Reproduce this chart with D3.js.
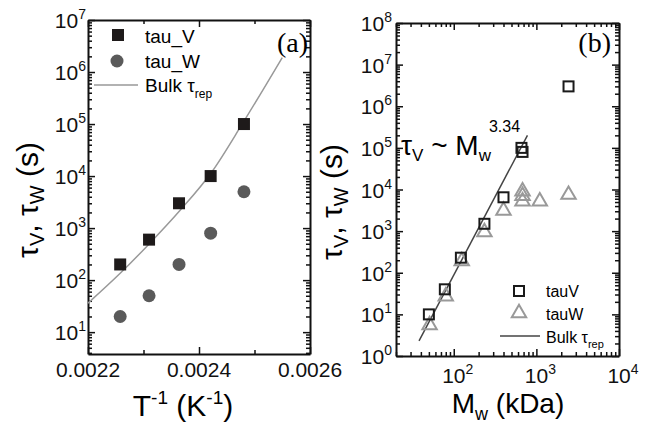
<!DOCTYPE html>
<html>
<head>
<meta charset="utf-8">
<script src="https://cdn.jsdelivr.net/npm/d3@7"></script>
<style>
  body { margin: 0; background: #fff; }
  svg { display: block; font-family: "Liberation Sans", Arial, sans-serif; }
  .axis path, .axis line { stroke: #111; }
  .axis path { stroke-width: 2; }
  .axis line { stroke-width: 1.5; }
</style>
</head>
<body>
<svg id="chart" width="652" height="427"></svg>
<script>
// panel (a): relaxation time vs inverse temperature
var invT = [0.002258, 0.00231, 0.002364, 0.002421, 0.002481];
var tauV_a = [200, 600, 3000, 10000, 100000];
var tauW_a = [20, 50, 200, 800, 5000];
var bulkInvT = [0.0022, 0.002258, 0.002308, 0.002366, 0.002423, 0.002479, 0.00255];
var bulkTau_a = [36, 135, 470, 2200, 12000, 105000, 1900000];
var xTicksA = [0.0022, 0.0024, 0.0026];
var xMinorA = [0.0023, 0.0025];
var yExpA = [1, 2, 3, 4, 5, 6, 7];

// panel (b): relaxation time vs molecular weight
var mwV = [50, 78, 122, 235, 400, 660, 680, 2450];
var tauV_b = [10, 40, 230, 1500, 6500, 100000, 80000, 3000000];
var mwW = [51, 80, 125, 235, 400, 680, 680, 680, 1100, 2450];
var tauW_b = [5.5, 27, 190, 950, 3100, 9000, 7000, 5200, 5200, 7500];
var bulkMw = [38, 780];
var bulkTau_b = [2.3, 200000];
var xExpB = [2, 3, 4];
var yExpB = [0, 1, 2, 3, 4, 5, 6, 7, 8];

var svg = d3.select("#chart");

function minors(lo, hi) {
    var out = [];
    for (var e = lo; e < hi; e++)
        for (var k = 2; k <= 9; k++) out.push(k * Math.pow(10, e));
    return out;
}

function frameAxes(g, x, y, xMaj, xMin, yMaj, yMin) {
    var x0 = x.range()[0], x1 = x.range()[1],
        y0 = y.range()[0], y1 = y.range()[1];
    var sets = [
        [d3.axisBottom(x), "translate(0," + y0 + ")", xMaj, xMin],
        [d3.axisTop(x), "translate(0," + y1 + ")", xMaj, xMin],
        [d3.axisLeft(y), "translate(" + x0 + ",0)", yMaj, yMin],
        [d3.axisRight(y), "translate(" + x1 + ",0)", yMaj, yMin]
    ];
    sets.forEach(function(s) {
        g.append("g").attr("class", "axis").attr("transform", s[1])
            .call(s[0].tickValues(s[2]).tickSize(-7).tickSizeOuter(0).tickFormat(""));
        g.append("g").attr("class", "axis minor").attr("transform", s[1])
            .call(s[0].tickValues(s[3]).tickSize(-4).tickSizeOuter(0).tickFormat(""))
            .select(".domain").remove();
    });
}

function powLabel(g, x, yPos, exp, anchor) {
    var t = g.append("text").attr("x", x).attr("y", yPos)
        .attr("text-anchor", anchor).attr("font-size", 21).attr("fill", "#111");
    t.append("tspan").text("10");
    t.append("tspan").attr("font-size", 14).attr("dy", -9).text(exp);
    return t;
}

// ---------- panel (a) ----------
var xa = d3.scaleLinear().domain([0.0022, 0.0026]).range([88, 310]);
var ya = d3.scaleLog().domain([3.8, 1e7]).range([354, 20]);
var ga = svg.append("g");

frameAxes(ga, xa, ya, xTicksA, xMinorA,
    yExpA.map(function(e) { return Math.pow(10, e); }), minors(0, 7).filter(function(v) { return v >= 3.8; }));

xTicksA.forEach(function(v) {
    ga.append("text").attr("x", xa(v)).attr("y", 377).attr("text-anchor", "middle")
        .attr("font-size", 21).attr("fill", "#111").text(v.toFixed(4));
});
yExpA.forEach(function(e) {
    powLabel(ga, 86, ya(Math.pow(10, e)) + 8, e, "end");
});

var lineA = d3.line().x(function(d) { return xa(d[0]); }).y(function(d) { return ya(d[1]); })
    .curve(d3.curveMonotoneX);
ga.append("path").datum(d3.zip(bulkInvT, bulkTau_a)).attr("d", lineA)
    .attr("fill", "none").attr("stroke", "#999").attr("stroke-width", 1.5);

ga.selectAll(".sq").data(d3.zip(invT, tauV_a)).enter().append("rect")
    .attr("x", function(d) { return xa(d[0]) - 6; }).attr("y", function(d) { return ya(d[1]) - 6; })
    .attr("width", 12).attr("height", 12).attr("fill", "#1e1a1a");
ga.selectAll(".ci").data(d3.zip(invT, tauW_a)).enter().append("circle")
    .attr("cx", function(d) { return xa(d[0]); }).attr("cy", function(d) { return ya(d[1]); })
    .attr("r", 6.5).attr("fill", "#5a5a5a");

// legend (a)
ga.append("rect").attr("x", 112).attr("y", 29).attr("width", 12).attr("height", 12).attr("fill", "#1e1a1a");
ga.append("text").attr("x", 145).attr("y", 43).attr("font-size", 19).text("tau_V");
ga.append("circle").attr("cx", 117).attr("cy", 61).attr("r", 6.5).attr("fill", "#5a5a5a");
ga.append("text").attr("x", 145).attr("y", 68).attr("font-size", 19).text("tau_W");
ga.append("line").attr("x1", 94).attr("x2", 138).attr("y1", 85).attr("y2", 85)
    .attr("stroke", "#999").attr("stroke-width", 1.5);
var la = ga.append("text").attr("x", 145).attr("y", 92).attr("font-size", 19);
la.append("tspan").text("Bulk τ");
la.append("tspan").attr("font-size", 12).attr("dy", 6).text("rep");

ga.append("text").attr("x", 308).attr("y", 52).attr("text-anchor", "end")
    .attr("font-family", "Liberation Serif, serif").attr("font-size", 28).text("(a)");

// axis titles (a)
var xtA = ga.append("text").attr("x", 183).attr("y", 416).attr("text-anchor", "middle").attr("font-size", 30);
xtA.append("tspan").text("T");
xtA.append("tspan").attr("font-size", 19).attr("dy", -12).text("-1");
xtA.append("tspan").attr("dy", 12).text(" (K");
xtA.append("tspan").attr("font-size", 19).attr("dy", -12).text("-1");
xtA.append("tspan").attr("dy", 12).text(")");

function yTitle(g, xPos, yPos) {
    var t = g.append("text").attr("transform", "translate(" + xPos + "," + yPos + ") rotate(-90)")
        .attr("text-anchor", "middle").attr("font-size", 30);
    t.append("tspan").text("τ");
    t.append("tspan").attr("font-size", 20).attr("dy", 6).text("V");
    t.append("tspan").attr("dy", -6).text(", τ");
    t.append("tspan").attr("font-size", 20).attr("dy", 6).text("W");
    t.append("tspan").attr("dy", -6).text(" (s)");
}
yTitle(ga, 38, 200);

// ---------- panel (b) ----------
var xb = d3.scaleLog().domain([20, 1e4]).range([396, 619]);
var yb = d3.scaleLog().domain([1, 1e8]).range([356, 23]);
var gb = svg.append("g");

frameAxes(gb, xb, yb,
    xExpB.map(function(e) { return Math.pow(10, e); }), minors(1, 4).filter(function(v) { return v >= 20; }),
    yExpB.map(function(e) { return Math.pow(10, e); }), minors(0, 8));

xExpB.forEach(function(e) {
    powLabel(gb, xb(Math.pow(10, e)) + 4, 383, e, "middle");
});
yExpB.forEach(function(e) {
    powLabel(gb, 392, yb(Math.pow(10, e)) + 8, e, "end");
});

var lineB = d3.line().x(function(d) { return xb(d[0]); }).y(function(d) { return yb(d[1]); });
gb.append("path").datum(d3.zip(bulkMw, bulkTau_b)).attr("d", lineB)
    .attr("fill", "none").attr("stroke", "#444").attr("stroke-width", 1.5);

var tri = d3.symbol().type(d3.symbolTriangle).size(90);
gb.selectAll(".tr").data(d3.zip(mwW, tauW_b)).enter().append("path")
    .attr("d", tri)
    .attr("transform", function(d) { return "translate(" + xb(d[0]) + "," + yb(d[1]) + ")"; })
    .attr("fill", "none").attr("stroke", "#999").attr("stroke-width", 2);
gb.selectAll(".sq").data(d3.zip(mwV, tauV_b)).enter().append("rect")
    .attr("x", function(d) { return xb(d[0]) - 5; }).attr("y", function(d) { return yb(d[1]) - 5; })
    .attr("width", 10).attr("height", 10)
    .attr("fill", "none").attr("stroke", "#1a1a1a").attr("stroke-width", 2);

// legend (b)
gb.append("rect").attr("x", 514).attr("y", 286).attr("width", 10).attr("height", 10)
    .attr("fill", "none").attr("stroke", "#1a1a1a").attr("stroke-width", 2);
gb.append("text").attr("x", 546).attr("y", 297).attr("font-size", 16).text("tauV");
gb.append("path").attr("d", tri).attr("transform", "translate(519,313)")
    .attr("fill", "none").attr("stroke", "#999").attr("stroke-width", 2);
gb.append("text").attr("x", 546).attr("y", 320).attr("font-size", 16).text("tauW");
gb.append("line").attr("x1", 500).attr("x2", 540).attr("y1", 336).attr("y2", 336)
    .attr("stroke", "#444").attr("stroke-width", 1.5);
var lb = gb.append("text").attr("x", 546).attr("y", 343).attr("font-size", 16);
lb.append("tspan").text("Bulk τ");
lb.append("tspan").attr("font-size", 11).attr("dy", 5).text("rep");

gb.append("text").attr("x", 611).attr("y", 52).attr("text-anchor", "end")
    .attr("font-family", "Liberation Serif, serif").attr("font-size", 28).text("(b)");

// scaling annotation
var ann = gb.append("text").attr("x", 401).attr("y", 155).attr("font-size", 28);
ann.append("tspan").text("τ");
ann.append("tspan").attr("font-size", 17).attr("dy", 6).text("V");
ann.append("tspan").attr("dy", -6).text(" ~ M");
ann.append("tspan").attr("font-size", 17).attr("dy", 6).text("w");
ann.append("tspan").attr("font-size", 16).attr("dy", -29).attr("dx", -2).text("3.34");

var xtB = gb.append("text").attr("x", 508).attr("y", 413).attr("text-anchor", "middle").attr("font-size", 28);
xtB.append("tspan").text("M");
xtB.append("tspan").attr("font-size", 18).attr("dy", 7).text("w");
xtB.append("tspan").attr("dy", -7).text(" (kDa)");

yTitle(gb, 342, 202);
</script>
</body>
</html>
